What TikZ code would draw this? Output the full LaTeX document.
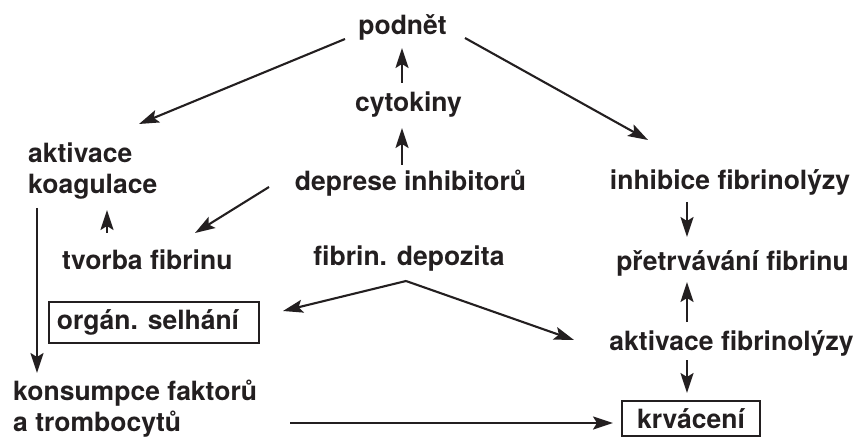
\documentclass[tikz,border=0pt]{standalone}
\usepackage{fontspec}
\setmainfont{TeX Gyre Heros}
\usetikzlibrary{arrows.meta}
\definecolor{ink}{RGB}{35,31,32}
\tikzset{
  lbl/.style={font=\fontsize{26.5}{31}\selectfont\bfseries, text=ink, inner sep=0pt, align=left},
  boxed/.style={lbl, draw=ink, line width=2.2pt, align=center},
  arr/.style={draw=ink, line width=2.1pt, -{Stealth[length=20pt,width=13pt,inset=4pt]}}
}
\begin{document}
\begin{tikzpicture}[x=1pt,y=-1pt]
\useasboundingbox (0,0) rectangle (861,438);
% nodes
\node[lbl, anchor=base] (podnet) at (402.5,35) {podnět};
\node[lbl, anchor=base] (cyto) at (408.5,112) {cytokiny};
\node[lbl, anchor=base] (depr) at (410.5,191) {deprese inhibitorů};
\node[lbl, anchor=base west] (aktiv) at (28,194) {aktivace\\koagulace};
\node[lbl, anchor=base west] (tvorba) at (62,269) {tvorba fibrinu};
\node[lbl, anchor=base] (fibr) at (409,265) {fibrin. depozita};
\node[boxed, minimum width=210, minimum height=41] (organ) at (154,322.5) {orgán. selhání\hspace*{12pt}};
\node[lbl, anchor=base west] (kons) at (13,431) {konsumpce faktorů\\a trombocytů};
\node[boxed, minimum width=138, minimum height=35] (krv) at (691,418.5) {krvácení};
\node[lbl, anchor=base] (inhib) at (730,190) {inhibice fibrinolýzy};
\node[lbl, anchor=base] (pretr) at (732.5,270) {přetrvávání fibrinu};
\node[lbl, anchor=base] (aktivF) at (731.5,350) {aktivace fibrinolýzy};
% connectors
\draw[arr] ([shift={(-57.5,4)}]podnet.base) -- ([shift={(111,-70)}]aktiv.base west);
\draw[arr] ([shift={(62.5,3)}]podnet.base) -- ([shift={(-82,-50)}]inhib.base);
\draw[arr] ([shift={(-6.5,-29)}]cyto.base) -- ([shift={(-0.5,13)}]podnet.base);
\draw[arr] ([shift={(-8.5,-26)}]depr.base) -- ([shift={(-6.5,16)}]cyto.base);
\draw[arr] ([shift={(-141.5,-4)}]depr.base) -- ([shift={(133,-36)}]tvorba.base west);
\draw[arr] ([shift={(45,-36)}]tvorba.base west) -- ([shift={(79,16)}]aktiv.base west);
\draw[arr] ([shift={(9,14)}]aktiv.base west) -- ([shift={(24,-58)}]kons.base west);
\draw[arr] ([shift={(-3,16)}]fibr.base) -- ([shift={(129,-11.5)}]organ.center);
\draw[arr] ([shift={(-3,16)}]fibr.base) -- ([shift={(-157.5,-10)}]aktivF.base);
\draw[arr] ([shift={(277,-8)}]kons.base west) -- ([shift={(-78,4.5)}]krv.center);
\draw[arr] ([shift={(-43,12)}]inhib.base) -- ([shift={(-45.5,-33)}]pretr.base);
\draw[arr] ([shift={(-44.5,-28)}]aktivF.base) -- ([shift={(-45.5,12)}]pretr.base);
\draw[arr] ([shift={(-44.5,10)}]aktivF.base) -- ([shift={(-4,-25.5)}]krv.center);
\end{tikzpicture}
\end{document}
